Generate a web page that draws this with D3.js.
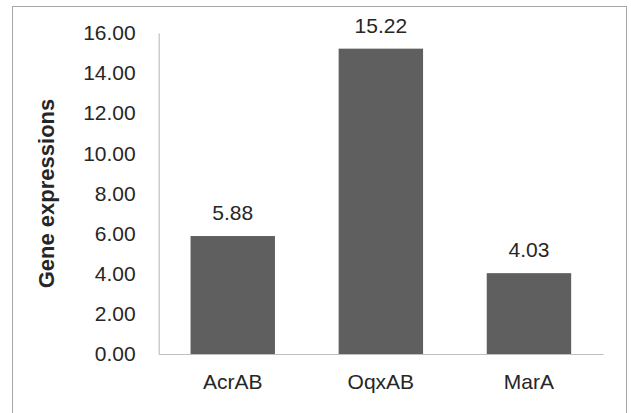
<!DOCTYPE html>
<html>
<head>
<meta charset="utf-8">
<script src="https://cdn.jsdelivr.net/npm/d3@7"></script>
<style>
  html, body { margin: 0; padding: 0; background: #fff; }
  svg { display: block; }
  text { font-family: "Liberation Sans", Arial, sans-serif; fill: #262626; }
</style>
</head>
<body>
<svg id="chart" width="631" height="413"></svg>
<script>
// Relative gene expression of efflux-pump genes
const genes = ["AcrAB", "OqxAB", "MarA"];
const expression = [5.88, 15.22, 4.03];
const yTicks = [0, 2, 4, 6, 8, 10, 12, 14, 16];

const W = 631, H = 413;
const plot = { left: 158.7, right: 603, top: 33, bottom: 354 };

const svg = d3.select("#chart");

// outer frame
svg.append("rect")
  .attr("x", 12.5).attr("y", 6.5)
  .attr("width", 614).attr("height", 420)
  .attr("fill", "none")
  .attr("stroke", "#a6a6a6")
  .attr("stroke-width", 1);

const x = d3.scaleBand()
  .domain(genes)
  .range([plot.left, plot.right])
  .paddingInner(0.43)
  .paddingOuter(0.215);

const y = d3.scaleLinear()
  .domain([0, 16])
  .range([plot.bottom, plot.top]);

// y axis
const yAxis = svg.append("g")
  .attr("transform", `translate(${plot.left},0)`)
  .call(d3.axisLeft(y).tickValues(yTicks).tickFormat(d3.format(".2f")).tickSize(0).tickPadding(23));
yAxis.select(".domain").attr("stroke", "#bfbfbf").attr("stroke-width", 1.2);
yAxis.selectAll("text")
  .attr("font-size", 21)
  .attr("font-family", "'Liberation Sans', Arial, sans-serif")
  .attr("fill", "#262626");

// bars
svg.append("g").selectAll("rect")
  .data(genes)
  .join("rect")
  .attr("x", d => x(d))
  .attr("width", x.bandwidth())
  .attr("y", (d, i) => y(expression[i]))
  .attr("height", (d, i) => y(0) - y(expression[i]))
  .attr("fill", "#5f5f5f");

// x axis
const xAxis = svg.append("g")
  .attr("transform", `translate(0,${plot.bottom})`)
  .call(d3.axisBottom(x).tickSize(0).tickPadding(20));
xAxis.select(".domain").attr("stroke", "#bfbfbf").attr("stroke-width", 1.2);
xAxis.selectAll("text")
  .attr("font-size", 21)
  .attr("font-family", "'Liberation Sans', Arial, sans-serif")
  .attr("fill", "#262626");

// value labels
svg.append("g").selectAll("text")
  .data(genes)
  .join("text")
  .attr("x", d => x(d) + x.bandwidth() / 2)
  .attr("y", (d, i) => y(expression[i]) - 16)
  .attr("text-anchor", "middle")
  .attr("font-size", 21)
  .text((d, i) => d3.format(".2f")(expression[i]));

// y axis title
svg.append("text")
  .attr("transform", `translate(53.5,${(plot.top + plot.bottom) / 2}) rotate(-90)`)
  .attr("text-anchor", "middle")
  .attr("font-size", 22)
  .attr("font-weight", "bold")
  .attr("fill", "#000")
  .text("Gene expressions");
</script>
</body>
</html>
